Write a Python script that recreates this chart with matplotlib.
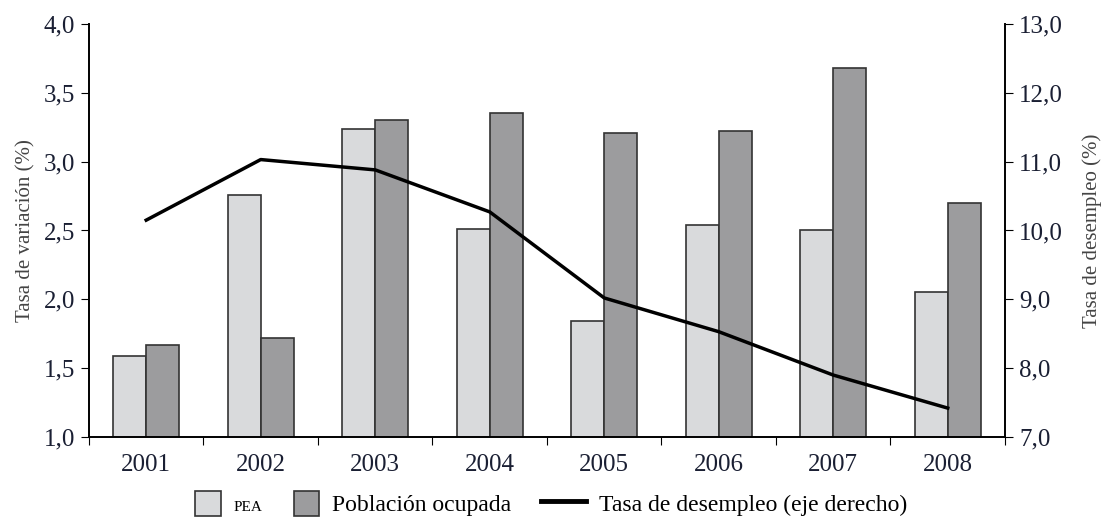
import numpy as np
import matplotlib.pyplot as plt
from matplotlib.patches import Patch, Rectangle
from matplotlib.lines import Line2D
from matplotlib.legend_handler import HandlerPatch

plt.rcParams['font.family'] = ['Liberation Serif', 'DejaVu Serif']

years = ['2001', '2002', '2003', '2004', '2005', '2006', '2007', '2008']
pea = [1.59, 2.76, 3.24, 2.51, 1.84, 2.54, 2.50, 2.05]
ocupada = [1.67, 1.72, 3.30, 3.35, 3.21, 3.22, 3.68, 2.70]
desempleo = [10.15, 11.03, 10.88, 10.27, 9.02, 8.53, 7.90, 7.42]

tick_color = '#1a1f33'
label_color = '#444444'


def square_patch(legend, orig_handle, xdescent, ydescent, width, height, fontsize):
    # square box at the right end of the handle area
    return Rectangle((width - height - xdescent, -ydescent), height, height)


fig = plt.figure(figsize=(11.05, 5.17), dpi=100)
ax = fig.add_axes([0.0805, 0.1547, 0.829, 0.799])

x = np.arange(len(years))
w = 0.29
ax.bar(x - w / 2, pea, w, bottom=0, color='#d9dadc', edgecolor='#333333', linewidth=1.2, zorder=2)
ax.bar(x + w / 2, ocupada, w, bottom=0, color='#9c9c9e', edgecolor='#333333', linewidth=1.2, zorder=2)

ax.set_xlim(-0.5, 7.5)
ax.set_ylim(1.0, 4.0)
yl = np.arange(1.0, 4.01, 0.5)
ax.set_yticks(yl)
ax.set_yticklabels([f'{v:.1f}'.replace('.', ',') for v in yl])
ax.set_xticks(np.arange(-0.5, 7.6, 1.0))
ax.set_xticklabels([])
ax.set_xticks(x, minor=True)
ax.set_xticklabels(years, minor=True)
ax.tick_params(axis='x', which='minor', length=0, pad=12, labelsize=18, labelcolor=tick_color)
ax.tick_params(axis='x', which='major', length=6, direction='out')
ax.tick_params(axis='y', length=6, direction='out', labelsize=18, labelcolor=tick_color, pad=4)
ax.set_ylabel('Tasa de variación (%)', fontsize=15, color=label_color, labelpad=6)
for s in ['top', 'right']:
    ax.spines[s].set_visible(False)
for s in ['left', 'bottom']:
    ax.spines[s].set_linewidth(1.4)

ax2 = ax.twinx()
ax2.plot(x, desempleo, color='black', linewidth=2.5, zorder=3)
ax2.set_ylim(7.0, 13.0)
yr = np.arange(7, 13.1, 1.0)
ax2.set_yticks(yr)
ax2.set_yticklabels([f'{v:.1f}'.replace('.', ',') for v in yr])
ax2.tick_params(axis='y', length=6, direction='out', labelsize=18, labelcolor=tick_color, pad=4)
ax2.set_ylabel('Tasa de desempleo (%)', fontsize=15, color=label_color, labelpad=14)
for s in ['top', 'left', 'bottom']:
    ax2.spines[s].set_visible(False)
ax2.spines['right'].set_linewidth(1.4)

handles = [
    Patch(facecolor='#d9dadc', edgecolor='#333333', linewidth=1.2),
    Patch(facecolor='#9c9c9e', edgecolor='#333333', linewidth=1.2),
    Line2D([0], [0], color='black', linewidth=3.5),
]
leg = fig.legend(handles, ['PEA', 'Población ocupada   ', 'Tasa de desempleo (eje derecho)'],
                 loc='lower center', bbox_to_anchor=(0.49, -0.04), ncol=3, frameon=False,
                 fontsize=17, handlelength=1.9, handleheight=1.3, columnspacing=0.5, handletextpad=0.55,
                 handler_map={Patch: HandlerPatch(patch_func=square_patch)})
leg.get_texts()[0].set_fontsize(11)

fig.savefig('out.png', dpi=100)
